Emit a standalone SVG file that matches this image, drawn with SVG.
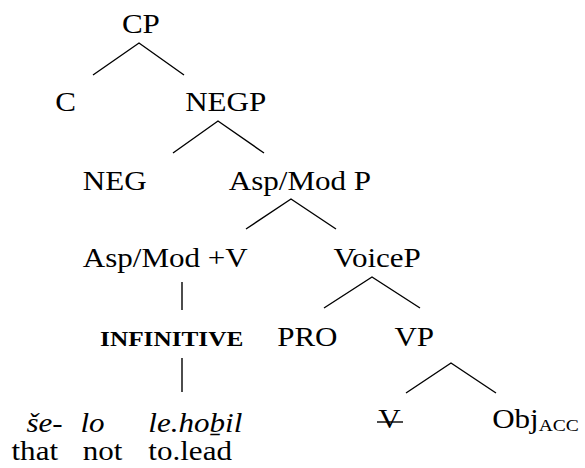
<svg xmlns="http://www.w3.org/2000/svg" width="585" height="468" viewBox="0 0 585 468">
  <style>
    .lbl { font-family: 'Liberation Serif'; font-size: 27px; fill: #000; }
    .it { font-style: italic; }
    .bd { font-weight: bold; font-size: 22px; }
    .sub { font-size: 17px; }
    .edge { stroke: #000; stroke-width: 1.4; fill: none; }
  </style>
  <rect width="585" height="468" fill="#fff"/>

  <!-- branches -->
  <g id="connectors">
    <path class="edge" d="M93 75 L139 43 L184 75"/>
    <path class="edge" d="M173 153 L218 121 L264 153"/>
    <path class="edge" d="M246 229 L291 199 L336 229"/>
    <path class="edge" d="M324 308 L372 277 L420 308"/>
    <path class="edge" d="M406 393 L451 363 L496 393"/>
    <path class="edge" d="M182 282 L182 310"/>
    <path class="edge" d="M182 358 L182 392"/>
    <!-- strike-through on the moved verb -->
    <line class="edge" x1="377" y1="422" x2="403" y2="422"/>
  </g>

  <!-- labels are set slightly wide: horizontal scale 1.15 -->
  <g font-family="Liberation Serif" transform="scale(1.15 1)">
    <g id="cp"><text class="lbl" x="106" y="33">CP</text></g>
    <g id="c"><text class="lbl" x="48" y="111">C</text></g>
    <g id="negp"><text class="lbl" x="161" y="111">NEGP</text></g>
    <g id="neg"><text class="lbl" x="72" y="190">NEG</text></g>
    <g id="aspmodp"><text class="lbl" x="199" y="190">Asp/Mod P</text></g>
    <g id="aspmodv"><text class="lbl" x="72" y="267">Asp/Mod +V</text></g>
    <g id="voicep"><text class="lbl" x="290" y="267">VoiceP</text></g>
    <g id="infinitive"><text class="lbl bd" x="87" y="346">INFINITIVE</text></g>
    <g id="pro"><text class="lbl" x="241" y="346">PRO</text></g>
    <g id="vp"><text class="lbl" x="343" y="346">VP</text></g>
    <g id="v"><text class="lbl" x="329" y="428">V</text></g>
    <g id="obj">
      <text class="lbl" x="428" y="428">Obj<tspan class="sub" dy="3">ACC</tspan></text>
    </g>

    <!-- gloss lines -->
    <g id="words">
      <text class="lbl it" x="23" y="432">še-</text>
      <text class="lbl it" x="70" y="432">lo</text>
      <text class="lbl it" x="129" y="432">le.hoḇil</text>
    </g>
    <g id="glosses">
      <text class="lbl" x="10" y="460">that</text>
      <text class="lbl" x="72" y="460">not</text>
      <text class="lbl" x="129" y="460">to.lead</text>
    </g>
  </g>
</svg>
